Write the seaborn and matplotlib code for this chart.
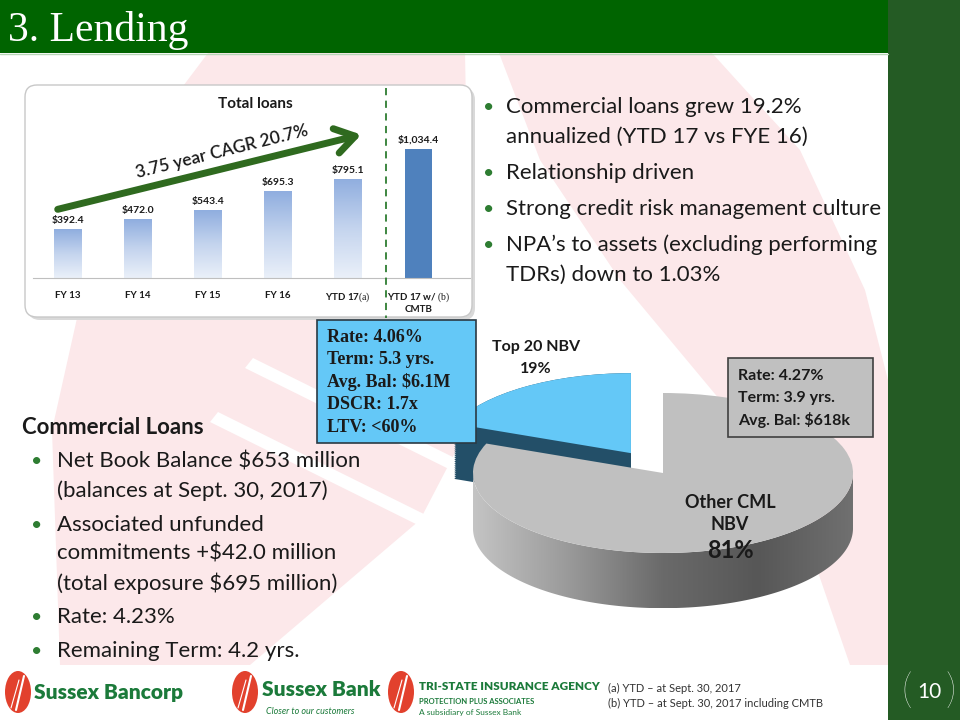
import numpy as np
import pandas as pd
import matplotlib
matplotlib.use('Agg')
import matplotlib.pyplot as plt
import seaborn as sns
from matplotlib.patches import Rectangle, FancyBboxPatch, Polygon, Ellipse
from matplotlib.colors import LinearSegmentedColormap

# --- data ---
periods = ['FY 13', 'FY 14', 'FY 15', 'FY 16', 'YTD 17', 'YTD 17 w/ CMTB']
total_loans = [392.4, 472.0, 543.4, 695.3, 795.1, 1034.4]
tick_labels = ['FY 13', 'FY 14', 'FY 15', 'FY 16',
               r'YTD 17$\mathrm{(a)}$', 'YTD 17 w/ $\\mathrm{(b)}$\nCMTB']
cagr_text = '3.75 year CAGR 20.7%'

pie_names = ['Top 20 NBV', 'Other CML']
pie_shares = [19, 81]
pie_explode = [0.3, 0.0]

top20_box = ['Rate: 4.06%', 'Term: 5.3 yrs.', 'Avg. Bal: $6.1M', 'DSCR: 1.7x', 'LTV: <60%']
other_box = ['Rate: 4.27%', 'Term: 3.9 yrs.', 'Avg. Bal: $618k']

right_bullets = [['Commercial loans grew 19.2%', 'annualized (YTD 17 vs FYE 16)'],
                 ['Relationship driven'],
                 ['Strong credit risk management culture'],
                 ['NPA\u2019s to assets (excluding performing', 'TDRs) down to 1.03%']]
left_bullets = [['Net Book Balance $653 million', '(balances at Sept. 30, 2017)'],
                ['Associated unfunded', 'commitments +$42.0 million', '(total exposure $695 million)'],
                ['Rate: 4.23%'],
                ['Remaining Term: 4.2 yrs.']]
footnotes = ['(a) YTD \u2013 at Sept. 30, 2017', '(b) YTD \u2013 at Sept. 30, 2017 including CMTB']

sns.set_style('white')
plt.rcParams['font.family'] = ['Lato', 'DejaVu Sans']
plt.rcParams['mathtext.fontset'] = 'custom'
plt.rcParams['mathtext.rm'] = 'Liberation Serif'

TXT = '#1a1a1a'
GREEN = '#006400'

fig = plt.figure(figsize=(9.6, 7.2), dpi=100)

# background layer in pixel coords
bg = fig.add_axes([0, 0, 1, 1], zorder=0)
bg.set_xlim(0, 960); bg.set_ylim(720, 0); bg.axis('off')
pink = '#fce8ea'
bg.add_patch(Polygon([(208, 53), (465, 53), (472, 420), (420, 520), (250, 665), (60, 665),
                      (52, 430), (90, 260), (150, 130)], closed=True, color=pink, lw=0))
bg.add_patch(Polygon([(499, 53), (712, 53), (800, 150), (865, 290), (888, 380), (888, 665),
                      (850, 665), (800, 520), (720, 400), (620, 280), (540, 160)], closed=True,
                     color=pink, lw=0))
for (x0, y0) in [(245, 368), (210, 422)]:
    bg.add_patch(Polygon([(x0, y0), (x0 + 8, y0 - 10), (x0 + 230, y0 + 100), (x0 + 222, y0 + 110)],
                         closed=True, color='white', lw=0))
bg.add_patch(Rectangle((0, 0), 888, 53, color=GREEN, lw=0))
bg.plot([0, 888], [54, 54], color='#b8d6b8', lw=1)
bg.add_patch(Rectangle((888, 0), 72, 720, color='#245b24', lw=0))
# chart frame
bg.add_patch(FancyBboxPatch((28, 88), 447, 232, boxstyle='round,pad=0,rounding_size=12',
                            fc='#d9d9d9', ec='none'))
bg.add_patch(FancyBboxPatch((25, 85), 447, 232, boxstyle='round,pad=0,rounding_size=12',
                            fc='white', ec='#c8c8c8', lw=1))

# --- total loans bar chart ---
bar_ax = fig.add_axes([33 / 960, 1 - 278 / 720, 437 / 960, 188 / 720], zorder=2)
bar_ax.patch.set_alpha(0)
df = pd.DataFrame({'period': periods, 'loans': total_loans})
bar_colors = ['#a7bfe6'] * 5 + ['#4f81bd']
sns.barplot(data=df, x='period', y='loans', hue='period', palette=bar_colors, legend=False,
            width=0.39, saturation=1, linewidth=0, ax=bar_ax)
grad_cmap = LinearSegmentedColormap.from_list('bars', ['#eaf0f9', '#c4d4ee', '#90aedf'])
bars = sorted(bar_ax.patches, key=lambda p: p.get_x())
for p in bars[:5]:
    x0, w, h = p.get_x(), p.get_width(), p.get_height()
    im = bar_ax.imshow(np.linspace(0, 1, 100).reshape(-1, 1), extent=[x0, x0 + w, 0, h],
                       origin='lower', cmap=grad_cmap, aspect='auto', zorder=p.get_zorder() + 0.1)
    im.set_clip_path(p)
for i, v in enumerate(total_loans):
    bar_ax.annotate(f'${v:,.1f}', (i, v), xytext=(0, 3), textcoords='offset points',
                    ha='center', va='bottom', fontsize=7.5, fontweight='bold', color=TXT)
bar_ax.set_xlim(-0.5, 5.74)
bar_ax.set_ylim(0, 1508)
bar_ax.set_yticks([])
bar_ax.set_xticks(range(len(periods)))
bar_ax.set_xticklabels(tick_labels, fontsize=7, fontweight='bold', color=TXT)
bar_ax.tick_params(axis='x', length=0, pad=9)
bar_ax.set_xlabel(''); bar_ax.set_ylabel('')
for s in ['top', 'right', 'left']:
    bar_ax.spines[s].set_visible(False)
bar_ax.spines['bottom'].set_color('#bfbfbf')

# --- 3D-look pie ---
pie_ax = fig.add_axes([440 / 960, 1 - 640 / 720, 460 / 960, 310 / 720], zorder=2)
depth = 0.69
for d in np.linspace(depth, 0, 30):
    pie_ax.pie(pie_shares, explode=pie_explode, startangle=90, counterclock=True,
               center=(0, -d), colors=['#234f68', 'none'],
               wedgeprops=dict(linewidth=0, zorder=1))
t = np.linspace(np.pi, 2 * np.pi, 200)
band_pts = np.vstack([np.c_[np.cos(t), np.sin(t)], np.c_[np.cos(t[::-1]), np.sin(t[::-1]) - depth]])
band = Polygon(band_pts, closed=True, fc='none', ec='none', zorder=2)
pie_ax.add_patch(band)
grey_cmap = LinearSegmentedColormap.from_list('side', ['#c4c4c4', '#9a9a9a', '#6a6a6a', '#575757', '#707070'])
side = pie_ax.imshow(np.linspace(0, 1, 256).reshape(1, -1), extent=[-1, 1, -1 - depth, 0],
                     cmap=grey_cmap, aspect='auto', zorder=2)
side.set_clip_path(band)
pie_ax.pie(pie_shares, explode=pie_explode, startangle=90, counterclock=True,
           colors=['#64c8f7', '#c0c0c0'], wedgeprops=dict(linewidth=0, zorder=3))
pie_ax.set_aspect('auto')
pie_ax.set_xlim((440 - 663) / 190, (900 - 663) / 190)
pie_ax.set_ylim(-(640 - 473) / 80, (473 - 330) / 80)
pie_ax.axis('off')

# --- foreground text layer ---
fg = fig.add_axes([0, 0, 1, 1], zorder=5)
fg.set_xlim(0, 960); fg.set_ylim(720, 0); fg.axis('off'); fg.patch.set_alpha(0)

fg.text(8, 30, '3. Lending', family='Liberation Serif', fontsize=30, color='white', va='center')
fg.text(255, 104, 'Total loans', fontsize=11, fontweight='bold', color=TXT, ha='center', va='center')
fg.plot([386, 386], [88, 318], color='#2e7d32', lw=1.3, ls=(0, (4, 3)))
fg.annotate('', xy=(364, 134), xytext=(55, 210),
            arrowprops=dict(arrowstyle='->,head_length=0.7,head_width=0.45', lw=5,
                            color='#2f6a1f', mutation_scale=20))
fg.text(222, 152, cagr_text, rotation=14, fontsize=12.5, fontweight='semibold', color=TXT,
        ha='center', va='center', rotation_mode='anchor')

# right bullets
y = 107
for lines in right_bullets:
    fg.text(489, y, '\u2022', fontsize=14, color='#2e7d32', va='center', ha='center')
    for ln in lines:
        fg.text(506, y, ln, fontsize=16, color=TXT, va='center')
        y += 30
    y += 6

# left block
fg.text(22, 427, 'Commercial Loans', fontsize=16, fontweight='bold', color=TXT, va='center')
y = 462
for lines in left_bullets:
    fg.text(37, y, '\u2022', fontsize=14, color='#2e7d32', va='center', ha='center')
    for ln in lines:
        fg.text(57, y, ln, fontsize=16, color=TXT, va='center')
        y += 29
    y += 5

# info boxes
fg.add_patch(Rectangle((317, 320), 159, 123, fc='#64c8f7', ec='#2b3a44', lw=1.2))
for k, ln in enumerate(top20_box):
    fg.text(327, 337 + k * 22.5, ln, family='Liberation Serif', fontsize=13, fontweight='bold',
            color=TXT, va='center')
fg.add_patch(Rectangle((728, 358), 145, 79, fc='#c0c0c0', ec='#404040', lw=1.2))
for k, ln in enumerate(other_box):
    fg.text(738, 376 + k * 22, ln, fontsize=11.5, fontweight='bold', color=TXT, va='center')

# pie labels
fg.text(536, 347, pie_names[0], fontsize=11.5, fontweight='bold', color=TXT, ha='center', va='center')
fg.text(536, 369, f'{pie_shares[0]}%', fontsize=11.5, fontweight='bold', color=TXT, ha='center', va='center')
fg.text(730, 503, pie_names[1], fontsize=13, fontweight='bold', color=TXT, ha='center', va='center')
fg.text(730, 525, 'NBV', fontsize=13, fontweight='bold', color=TXT, ha='center', va='center')
fg.text(730, 551, f'{pie_shares[1]}%', fontsize=17, fontweight='bold', color=TXT, ha='center', va='center')

# footer logos
logo_green = '#1b7a3a'
for cx in [18, 245, 401]:
    fg.add_patch(Ellipse((cx, 692), 26, 42, fc='#e2412d', ec='none'))
    fg.plot([cx - 2, cx + 6], [710, 676], color='white', lw=1.5)
    fg.plot([cx - 7, cx + 1], [708, 680], color='white', lw=0.8)
fg.text(34, 692, 'Sussex Bancorp', fontsize=15, fontweight='heavy', color=logo_green, va='center')
fg.text(262, 690, 'Sussex Bank', fontsize=15, fontweight='heavy', color=logo_green, va='center')
fg.text(266, 711, 'Closer to our customers', fontsize=6.5, style='italic', color=logo_green, va='center')
fg.text(419, 687, 'TRI-STATE INSURANCE AGENCY', fontsize=8.5, fontweight='heavy', color=logo_green, va='center')
fg.text(419, 701, 'PROTECTION PLUS ASSOCIATES', fontsize=5.5, fontweight='bold', color=logo_green, va='center')
fg.text(419, 712, 'A subsidiary of Sussex Bank', fontsize=6, color=logo_green, va='center')
fg.text(608, 688, footnotes[0], fontsize=8, color='#333333', va='center')
fg.text(608, 703, footnotes[1], fontsize=8, color='#333333', va='center')

# page number
fg.text(929, 692, '10', fontsize=15, color='white', ha='center', va='center')
fg.text(907, 692, '(', fontsize=30, fontweight='light', color='white', ha='center', va='center')
fg.text(951, 692, ')', fontsize=30, fontweight='light', color='white', ha='center', va='center')

fig.savefig('out.png', dpi=100)
